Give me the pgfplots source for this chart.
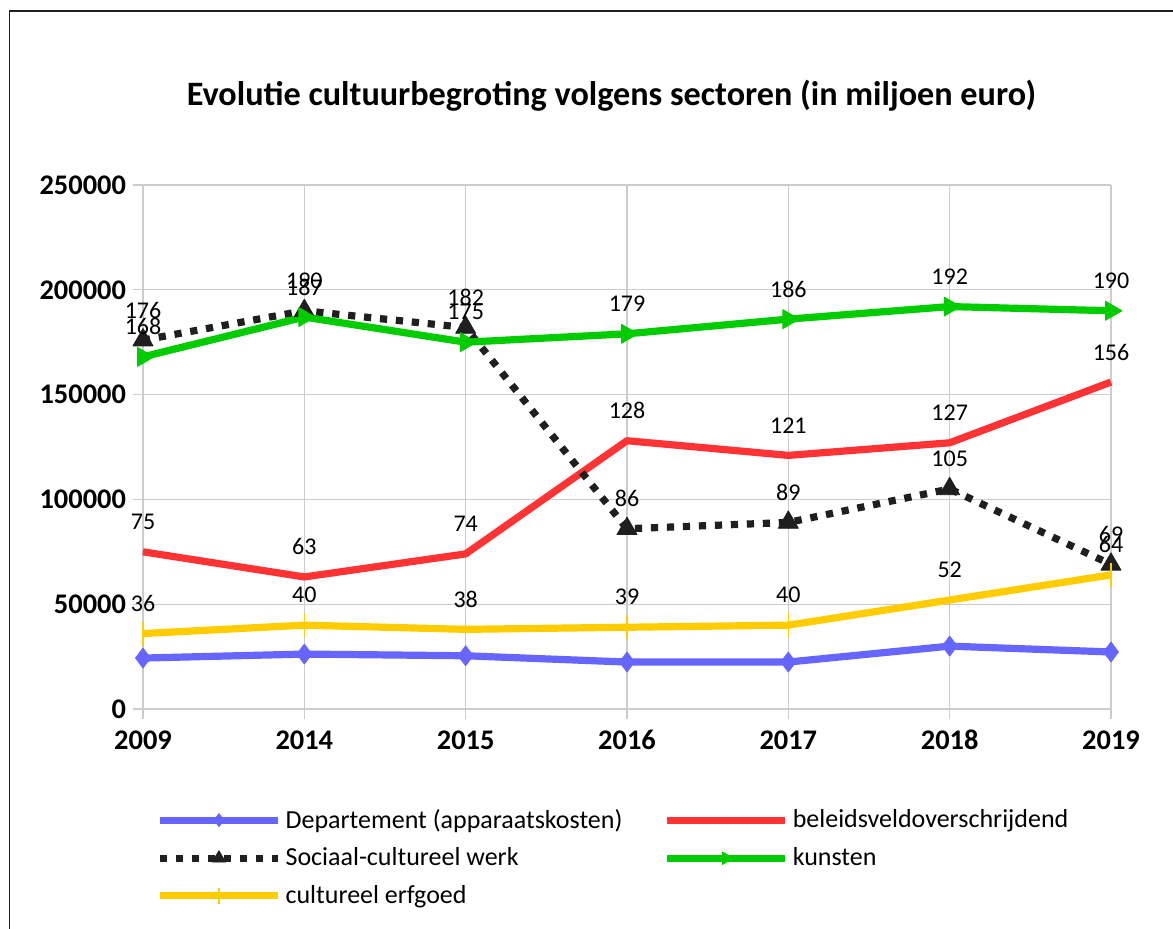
\documentclass[border=0pt]{standalone}
\usepackage{pgfplots}
\pgfplotsset{compat=1.18}
\usepackage{fontspec}
\setmainfont{Carlito}
\definecolor{cblue}{HTML}{6666FF}
\definecolor{cred}{HTML}{FF3333}
\definecolor{cblack}{HTML}{1F1F1F}
\definecolor{cgreen}{HTML}{00CC00}
\definecolor{cyellow}{HTML}{FFCC00}
\definecolor{cgrid}{HTML}{CCCCCC}
\begin{document}
\begin{tikzpicture}
\path[use as bounding box] (0,0) rectangle (586.5pt,-464.5pt);
\draw[cblack,line width=0.8pt] (4.65pt,-500pt) -- (4.65pt,-5.65pt) -- (600pt,-5.65pt);
\node[anchor=base,font=\fontsize{17.1}{20}\selectfont\bfseries] at (305.75pt,-53pt) {Evolutie cultuurbegroting volgens sectoren (in miljoen euro)};
\begin{axis}[
  at={(71.5pt,-354.5pt)}, anchor=south west,
  scale only axis, width=484pt, height=262pt,
  xmin=0, xmax=6, ymin=0, ymax=250000,
  xtick={0,...,6},
  xticklabels={2009,2014,2015,2016,2017,2018,2019},
  ytick={0,50000,...,250000},
  scaled y ticks=false,
  /pgf/number format/fixed,
  /pgf/number format/1000 sep={},
  /pgf/number format/assume math mode=true,
  ticklabel style={font=\fontsize{14.2}{16}\selectfont\bfseries, text=black},
  xticklabel style={text height=9pt, text depth=0pt, anchor=north, yshift=-2.5pt},
  grid=major,
  major grid style={cgrid, line width=0.6pt},
  axis line style={cgrid, line width=0.6pt},
  axis lines=left,
  tick style={cgrid, line width=0.6pt},
  tick align=outside,
  major tick length=5pt,
  x axis line style={-}, y axis line style={-},
  clip=false,
  every axis plot/.append style={line width=3.6pt, line join=round},
  point meta=explicit symbolic,
  every node near coord/.append style={anchor=center, yshift=15pt, font=\fontsize{12}{14}\selectfont, text=black, inner sep=0pt},
  legend columns=2,
  legend cell align=left,
  legend style={draw=none, fill=none, at={(0.0072,-0.175)}, anchor=north west,
    font=\fontsize{13}{15}\selectfont, row sep=4.3pt,
    /tikz/every even column/.append style={column sep=8pt}},
  legend image code/.code={\draw[mark repeat=2,mark phase=2,#1,every mark/.append style={scale=0.65}] plot coordinates {(0pt,0pt) (29.5pt,0pt) (59pt,0pt)};},
]
\addplot[cblue, mark=diamond*, mark size=5pt, mark options={solid, line width=0.4pt}] coordinates {
(0,24300) (1,26200) (2,25400) (3,22400) (4,22400) (5,30000) (6,27200)};
\addlegendentry{\makebox[179pt][l]{Departement (apparaatskosten)}}
\addplot[cred, nodes near coords] coordinates {
(0,75000) [75] (1,63000) [63] (2,74000) [74] (3,128000) [128] (4,121000) [121] (5,127000) [127] (6,156000) [156]};
\addlegendentry{beleidsveldoverschrijdend}
\addplot[cblack, line cap=butt, dash pattern=on 3.6pt off 4.4pt, mark=triangle*, mark size=5.8pt, mark options={solid, line width=0.4pt}, nodes near coords] coordinates {
(0,176000) [176] (1,190000) [190] (2,182000) [182] (3,86000) [86] (4,89000) [89] (5,105000) [105] (6,69000) [69]};
\addlegendentry{\makebox[179pt][l]{Sociaal-cultureel werk}}
\addplot[cgreen, mark=triangle*, mark size=5.5pt, mark options={solid, rotate=-90, line width=0.4pt}, nodes near coords] coordinates {
(0,168000) [168] (1,187000) [187] (2,175000) [175] (3,179000) [179] (4,186000) [186] (5,192000) [192] (6,190000) [190]};
\addlegendentry{kunsten}
\addplot[cyellow, mark=|, mark size=6pt, mark options={solid, line width=0.8pt}, nodes near coords] coordinates {
(0,36000) [36] (1,40000) [40] (2,38000) [38] (3,39000) [39] (4,40000) [40] (5,52000) [52] (6,64000) [64]};
\addlegendentry{\makebox[179pt][l]{cultureel erfgoed}}
\end{axis}
\end{tikzpicture}
\end{document}
